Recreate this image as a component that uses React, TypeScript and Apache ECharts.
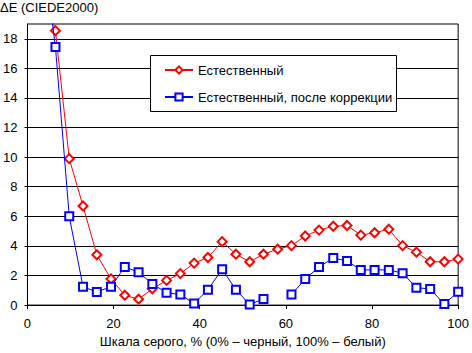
import React, { useEffect, useRef } from "react";
import * as echarts from "echarts";

const grayPercent = [0, 3.2, 6.5, 9.7, 12.9, 16.1, 19.4, 22.6, 25.8, 29, 32.3, 35.5, 38.7, 41.9, 45.2, 48.4, 51.6, 54.8, 58.1, 61.3, 64.5, 67.7, 71, 74.2, 77.4, 80.6, 83.9, 87.1, 90.3, 93.5, 96.8, 100];

const naturalValues = [26, 22, 18.55, 9.9, 6.7, 3.4, 1.77, 0.67, 0.4, 1.1, 1.67, 2.13, 2.84, 3.22, 4.29, 3.44, 2.93, 3.44, 3.78, 4.02, 4.67, 5.07, 5.33, 5.38, 4.73, 4.89, 5.13, 4.02, 3.58, 2.93, 2.93, 3.11];

const correctedValues: (number | null)[] = [31, 25, 17.44, 6.0, 1.24, 0.89, 1.24, 2.58, 2.22, 1.43, 0.84, 0.71, 0.11, 1.04, 2.42, 1.04, 0.04, 0.42, null, 0.71, 1.77, 2.58, 3.18, 2.98, 2.38, 2.38, 2.38, 2.16, 1.18, 1.09, 0.07, 0.91];

const seriesNames = ["Естественный", "Естественный, после коррекции"];
const yTicks = [0, 2, 4, 6, 8, 10, 12, 14, 16, 18];
const xTicks = [0, 20, 40, 60, 80, 100];
const yTitle = "ΔE (CIEDE2000)";
const xTitle = "Шкала серого, % (0% – черный, 100% – белый)";

const FONT = '"Liberation Sans", Arial, sans-serif';

export default function App() {
  const ref = useRef<HTMLDivElement>(null);
  useEffect(() => {
    if (!ref.current) return;
    const chart = echarts.init(ref.current, null, { renderer: "svg" });
    const toPairs = (vals: (number | null)[]) =>
      grayPercent.map((x, i) => [x, vals[i] === null ? null : vals[i]]);
    chart.setOption({
      animation: false,
      backgroundColor: "#fff",
      textStyle: { fontFamily: FONT },
      grid: {
        left: 23,
        top: 24,
        width: 439,
        height: 285,
        show: true,
        borderColor: "#000",
        borderWidth: 1,
        backgroundColor: "transparent",
      },
      xAxis: {
        type: "value",
        min: 0,
        max: 100,
        interval: 20,
        name: xTitle,
        nameLocation: "middle",
        nameGap: 27,
        nameTextStyle: { color: "#000", fontSize: 13, fontFamily: FONT },
        axisLine: { show: true, lineStyle: { color: "#000", width: 1 } },
        axisTick: { show: true, length: 4, lineStyle: { color: "#000" }, customValues: xTicks },
        axisLabel: { color: "#000", fontSize: 13, fontFamily: FONT, margin: 12, customValues: xTicks },
        splitLine: { show: false },
      },
      yAxis: {
        type: "value",
        min: 0,
        max: 19,
        interval: 2,
        axisLine: { show: true, lineStyle: { color: "#000", width: 1 } },
        axisTick: { show: true, length: 3, lineStyle: { color: "#000" }, customValues: yTicks },
        axisLabel: { color: "#000", fontSize: 13, fontFamily: FONT, margin: 10, customValues: yTicks },
        splitLine: { show: true, lineStyle: { color: "#000", width: 1 } },
      },
      legend: {
        orient: "vertical",
        left: 164,
        top: 63,
        padding: 0,
        itemWidth: 28,
        itemHeight: 9,
        itemGap: 13,
        z: 10,
        textStyle: { color: "#000", fontSize: 13, fontFamily: FONT, lineHeight: 14 },
        data: seriesNames,
      },
      graphic: [
        {
          type: "rect",
          z: 5,
          shape: { x: 150.5, y: 55.5, width: 246, height: 56 },
          style: { fill: "#fff", stroke: "#000", lineWidth: 1 },
        },
        {
          type: "text",
          x: 0,
          y: 1,
          style: { text: yTitle, fill: "#000", font: `13px ${FONT}`, verticalAlign: "top" },
        },
      ],
      series: [
        {
          name: seriesNames[0],
          type: "line",
          data: toPairs(naturalValues),
          symbol: "emptyDiamond",
          symbolSize: 9,
          clip: true,
          lineStyle: { color: "#ff0000", width: 1 },
          itemStyle: { color: "#ff0000", borderWidth: 1 },
          z: 3,
        },
        {
          name: seriesNames[1],
          type: "line",
          data: toPairs(correctedValues),
          symbol: "emptyRect",
          symbolSize: 8,
          clip: true,
          connectNulls: false,
          lineStyle: { color: "#0000ff", width: 1 },
          itemStyle: { color: "#0000ff", borderWidth: 1 },
          z: 4,
        },
      ],
    });
    return () => chart.dispose();
  }, []);
  return (
    <div
      ref={ref}
      style={{ position: "fixed", left: 0, top: 0, width: 472, height: 353 }}
    />
  );
}
